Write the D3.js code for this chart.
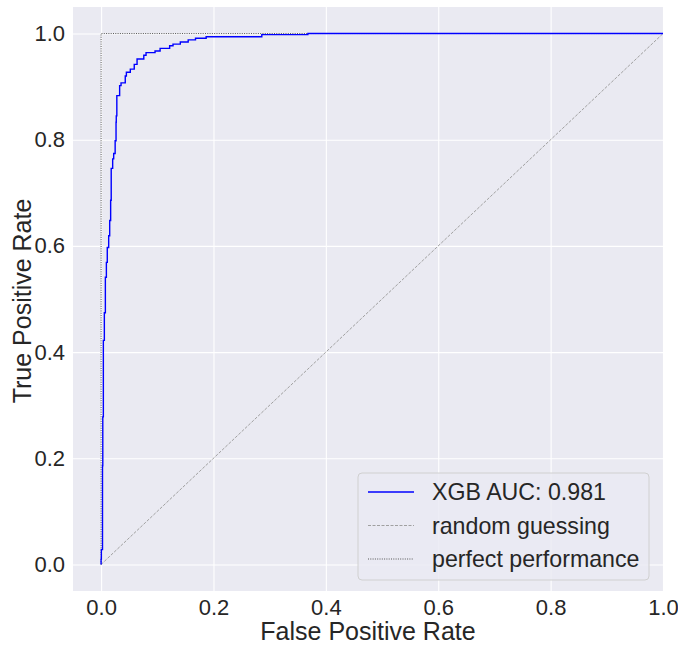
<!DOCTYPE html>
<html>
<head>
<meta charset="utf-8">
<script src="https://cdn.jsdelivr.net/npm/d3@7"></script>
<style>
  body { margin: 0; background: #fff; }
  text { font-family: "Liberation Sans", Arial, sans-serif; fill: #262626; }
</style>
</head>
<body>
<div id="chart-area"></div>
<script>
// ROC curve corners (fpr, tpr)
const fpr = [0, 0.0005, 0.0025, 0.003, 0.004, 0.0058, 0.0076, 0.0094, 0.011, 0.0135,
  0.0153, 0.017, 0.018, 0.0206, 0.0224, 0.025, 0.0266, 0.027, 0.028, 0.033,
  0.0355, 0.043, 0.045, 0.052, 0.059, 0.064, 0.076, 0.080, 0.096, 0.105,
  0.122, 0.128, 0.141, 0.155, 0.168, 0.187, 0.286, 0.368, 1.0]
const tpr = [0, 0.01, 0.028, 0.186, 0.278, 0.422, 0.474, 0.541, 0.569, 0.597,
  0.619, 0.648, 0.686, 0.746, 0.764, 0.774, 0.798, 0.833, 0.845, 0.883,
  0.902, 0.907, 0.92, 0.927, 0.933, 0.942, 0.952, 0.959, 0.964, 0.967,
  0.972, 0.977, 0.980, 0.984, 0.988, 0.991, 0.994, 0.998, 1.0]

const randomX = [0, 1]
const randomY = [0, 1]
const perfectX = [0, 0, 1]
const perfectY = [0, 1, 1]

const ticks = [0, 0.2, 0.4, 0.6, 0.8, 1.0]
const legendLabels = ["XGB AUC: 0.981", "random guessing", "perfect performance"]

const MARGIN = { LEFT: 73, RIGHT: 15, TOP: 7, BOTTOM: 55 }
const WIDTH = 678 - MARGIN.LEFT - MARGIN.RIGHT
const HEIGHT = 646 - MARGIN.TOP - MARGIN.BOTTOM

const svg = d3.select("#chart-area").append("svg")
  .attr("width", 678)
  .attr("height", 646)

const g = svg.append("g")
  .attr("transform", `translate(${MARGIN.LEFT}, ${MARGIN.TOP})`)

// scales
const x = d3.scaleLinear().domain([-0.05, 1.0]).range([0, WIDTH])
const y = d3.scaleLinear().domain([-0.05, 1.05]).range([HEIGHT, 0])

// background
g.append("rect")
  .attr("width", WIDTH)
  .attr("height", HEIGHT)
  .attr("fill", "#EAEAF2")

// grid
g.append("g")
  .attr("class", "x grid")
  .attr("transform", `translate(0, ${HEIGHT})`)
  .call(d3.axisBottom(x).tickValues(ticks).tickSize(-HEIGHT).tickFormat(""))
g.append("g")
  .attr("class", "y grid")
  .call(d3.axisLeft(y).tickValues(ticks).tickSize(-WIDTH).tickFormat(""))
g.selectAll(".grid .domain").remove()
g.selectAll(".grid line").attr("stroke", "#fff").attr("stroke-width", 1.1)

// axes (labels only, seaborn style)
g.append("g")
  .attr("class", "x axis")
  .attr("transform", `translate(0, ${HEIGHT})`)
  .call(d3.axisBottom(x).tickValues(ticks).tickSize(0).tickPadding(8).tickFormat(d3.format(".1f")))
g.append("g")
  .attr("class", "y axis")
  .call(d3.axisLeft(y).tickValues(ticks).tickSize(0).tickPadding(8).tickFormat(d3.format(".1f")))
g.selectAll(".axis .domain").remove()
g.selectAll(".axis text")
  .style("font-size", "22px")
  .attr("fill", "#262626")
  .style("font-family", "Liberation Sans, Arial, sans-serif")

// axis titles
svg.append("text")
  .attr("x", MARGIN.LEFT + WIDTH / 2)
  .attr("y", 640)
  .attr("text-anchor", "middle")
  .style("font-size", "25px")
  .text("False Positive Rate")

svg.append("text")
  .attr("transform", `translate(31, ${MARGIN.TOP + y(0.5) + 2}) rotate(-90)`)
  .attr("text-anchor", "middle")
  .style("font-size", "25px")
  .text("True Positive Rate")

// lines
const line = d3.line()
  .x(d => x(d[0]))
  .y(d => y(d[1]))

g.append("clipPath").attr("id", "clip")
  .append("rect").attr("width", WIDTH).attr("height", HEIGHT)

g.append("path")
  .attr("class", "random")
  .attr("d", line(d3.zip(randomX, randomY)))
  .attr("fill", "none")
  .attr("stroke", "#a0a0a0")
  .attr("stroke-width", 1)
  .attr("stroke-dasharray", "3,1.5")

g.append("path")
  .attr("class", "perfect")
  .attr("d", line(d3.zip(perfectX, perfectY)))
  .attr("fill", "none")
  .attr("stroke", "#555")
  .attr("stroke-width", 1)
  .attr("stroke-dasharray", "1,1.3")

g.append("path")
  .attr("class", "roc")
  .attr("clip-path", "url(#clip)")
  .attr("d", line.curve(d3.curveStepBefore)(d3.zip(fpr, tpr)))
  .attr("fill", "none")
  .attr("stroke", "#0000ff")
  .attr("stroke-width", 1.4)

// legend
const legend = svg.append("g").attr("class", "legend")
legend.append("rect")
  .attr("x", 358)
  .attr("y", 473)
  .attr("width", 291)
  .attr("height", 107)
  .attr("rx", 4)
  .attr("fill", "#EAEAF2")
  .attr("fill-opacity", 0.8)
  .attr("stroke", "#d0d0d0")
  .attr("stroke-width", 1)

const legendStyles = [
  { stroke: "#0000ff", dash: null, w: 1.4 },
  { stroke: "#a0a0a0", dash: "3,1.5", w: 1 },
  { stroke: "#555", dash: "1,1.3", w: 1 }
]

legendLabels.forEach((label, i) => {
  const cy = 492 + i * 33.5
  legend.append("line")
    .attr("x1", 368)
    .attr("x2", 414)
    .attr("y1", cy)
    .attr("y2", cy)
    .attr("stroke", legendStyles[i].stroke)
    .attr("stroke-width", legendStyles[i].w)
    .attr("stroke-dasharray", legendStyles[i].dash)
  legend.append("text")
    .attr("x", 432)
    .attr("y", cy + 8)
    .style("font-size", "23.2px")
    .text(label)
})
</script>
</body>
</html>
